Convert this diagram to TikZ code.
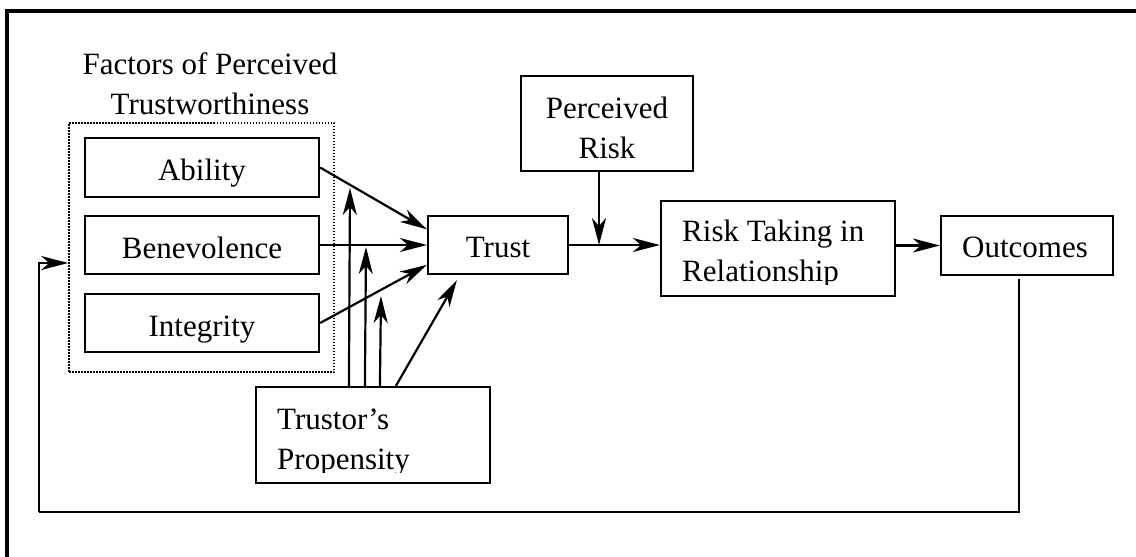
\documentclass[tikz,border=0pt]{standalone}
\usepackage{fontspec}
\setmainfont{Liberation Serif}
\usetikzlibrary{arrows.meta,calc}
\begin{document}
\begin{tikzpicture}[x=1pt,y=-1pt,
  box/.style={draw, line width=2.2pt, inner sep=0pt},
  lbl/.style={inner sep=0pt, font=\fontsize{31pt}{40pt}\selectfont},
  conn/.style={line width=2.2pt, -{Stealth[length=27pt,width=14pt,inset=8pt]}},
  plain/.style={line width=2.2pt},
  group/.style={draw, line width=1.6pt, dash pattern=on 1.5pt off 1.5pt, inner sep=0pt},
  frame/.style={line width=4pt}]
\clip (0,0) rectangle (1136,557);
\fill[white] (0,0) rectangle (1136,557);

% outer frame (open at right and bottom)
\draw[frame] (7,580) -- (7,11) -- (1160,11);

% factors of perceived trustworthiness (base anchor = last line)
\node[lbl, align=center, anchor=base] (title) at (210,114) {Factors of Perceived\\Trustworthiness};
\node[group, minimum width=265pt, minimum height=249pt] (factors) at (201.5,247.5) {};
\node[box, minimum width=234pt, minimum height=59pt] (ability) at (202,167.5) {};
\node[box, minimum width=234pt, minimum height=58pt] (benev) at (202,245) {};
\node[box, minimum width=234pt, minimum height=58pt] (integ) at (202,323) {};
\node[lbl, anchor=base] (abilitytext) at (202,180) {Ability};
\node[lbl, anchor=base] (benevtext) at (202,258) {Benevolence};
\node[lbl, anchor=base] (integtext) at (202,336) {Integrity};

% trust, risk and outcomes
\node[box, minimum width=140pt, minimum height=58pt] (trust) at (498,245) {};
\node[lbl, anchor=base] (trusttext) at (498,257) {Trust};
\node[box, minimum width=172pt, minimum height=95pt] (prisk) at (607,123.5) {};
\node[lbl, align=center, anchor=base] (prisktext) at (607,158) {Perceived\\Risk};
\node[box, minimum width=234pt, minimum height=95pt] (taking) at (778,248.5) {};
\begin{scope}
  \clip (taking.north west) rectangle ($(taking.south east)+(0,-13)$);
  \node[lbl, align=left, anchor=base west] (takingtext) at (682,281) {Risk Taking in\\Relationship};
\end{scope}
\node[box, minimum width=172pt, minimum height=59pt] (outcomes) at (1027,245.5) {};
\node[lbl, anchor=base] (outcomestext) at (1025,257) {Outcomes};

% trustor's propensity
\node[box, minimum width=234pt, minimum height=96pt] (trustor) at (373,435) {};
\begin{scope}
  \clip (trustor.north west) rectangle ($(trustor.south east)+(0,-12)$);
  \node[lbl, align=left, anchor=base west] (trustortext) at (277,469) {Trustor’s\\Propensity};
\end{scope}

% factors into trust
\draw[conn] (ability.east) -- ($(trust.north west)!0.24!(trust.south west)$);
\draw[conn] (benev.east) -- (trust.west);
\draw[conn] (integ.east) -- ($(trust.north west)!0.83!(trust.south west)$);

% propensity moderating the factor links
\coordinate (tipA) at (350,188);
\coordinate (tipB) at (366,247);
\coordinate (tipC) at (381,296);
\coordinate (tipD) at ($(trust.south west)+(30,5)$);
\draw[conn] ($(trustor.north west)+(94,0)$) -- (tipA);
\draw[conn] ($(trustor.north west)+(110,0)$) -- (tipB);
\draw[conn] ($(trustor.north west)+(125,0)$) -- (tipC);
\draw[conn] ($(trustor.north west)+(141,0)$) -- (tipD);

% trust to risk taking to outcomes
\draw[conn] (trust.east) -- (trust.east -| taking.west);
\coordinate (riskout) at ($(prisk.south)+(-8,0)$);
\draw[conn] (riskout) -- (riskout |- trust.east);
\draw[conn] (outcomes.west -| taking.east) -- (outcomes.west);

% feedback loop
\coordinate (fbstart) at ($(outcomes.south)+(-8,3)$);
\coordinate (fbcorner) at (39,512);
\coordinate (fbin) at ($(factors.west)+(0,15.5)$);
\draw[plain] (fbstart) |- (fbcorner);
\draw[conn] (fbcorner) |- (fbin);
\end{tikzpicture}
\end{document}
